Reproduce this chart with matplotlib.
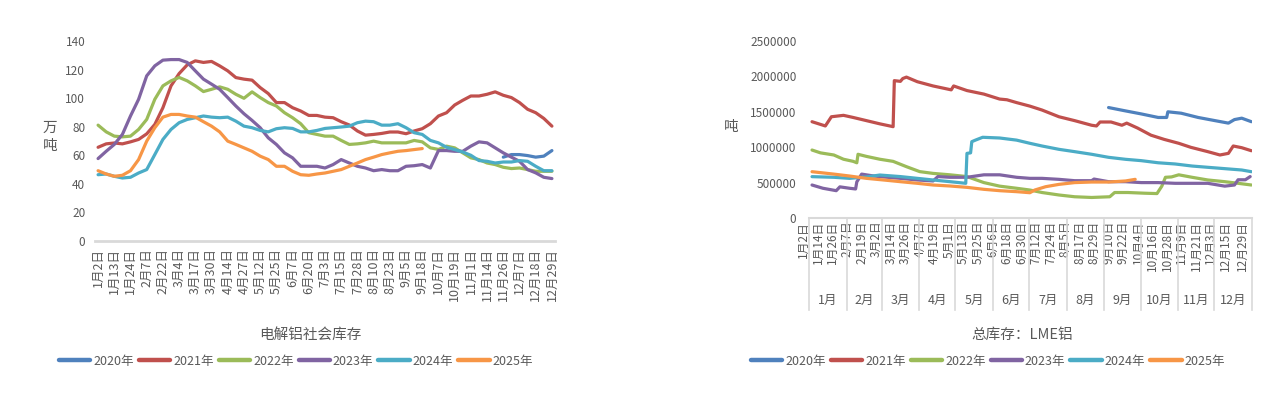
import numpy as np
import matplotlib
matplotlib.use("Agg")
import matplotlib.pyplot as plt
from matplotlib.lines import Line2D
import matplotlib.transforms as mtransforms

plt.rcParams['font.family'] = ['Noto Sans CJK SC', 'DejaVu Sans']

# ---------------- data ----------------
years = ['2020年', '2021年', '2022年', '2023年', '2024年', '2025年']
colors = ['#4F81BD', '#C0504D', '#9BBB59', '#8064A2', '#4BACC6', '#F79646']

# Left chart: 电解铝社会库存 (万吨), sampled every half label step
left_labels = ['1月2日', '1月13日', '1月24日', '2月7日', '2月22日', '3月4日', '3月17日',
               '3月30日', '4月14日', '4月27日', '5月12日', '5月25日', '6月7日', '6月20日',
               '7月3日', '7月15日', '7月28日', '8月10日', '8月23日', '9月5日', '9月18日',
               '10月7日', '10月19日', '11月1日', '11月14日', '11月26日', '12月7日',
               '12月18日', '12月29日']

soc_2020 = [58.7, 60.5, 60.5, 59.8, 58.7, 59.4, 63.3]
soc_2020_start = 25.0
soc_2021 = [65.6, 68.0, 68.6, 68.0, 69.4, 71.1, 75.0, 81.6, 93.3, 108.6, 117.2, 123.3, 126.1,
            125.0, 125.7, 122.6, 119.1, 114.4, 113.3, 112.6, 107.4, 103.2, 96.9, 96.9, 93.3,
            91.0, 87.9, 87.9, 86.7, 86.3, 83.5, 81.2, 77.0, 74.1, 74.6, 75.3, 76.3, 76.3, 75.1,
            77.0, 78.6, 82.1, 87.5, 89.8, 95.2, 98.5, 101.5, 101.5, 102.7, 104.4, 102.0, 100.4,
            96.9, 92.2, 89.8, 85.8, 80.4]
soc_2022 = [81.1, 76.4, 73.4, 72.9, 73.4, 78.1, 85.1, 99.2, 108.6, 112.1, 114.5, 112.1, 108.6,
            104.6, 106.2, 107.9, 106.2, 102.7, 99.9, 104.4, 100.4, 96.9, 94.5, 89.8, 86.3, 82.1,
            75.8, 74.6, 73.4, 73.4, 70.4, 67.6, 68.0, 68.7, 69.9, 68.7, 68.7, 68.7, 68.7, 70.4,
            69.4, 65.2, 64.1, 66.4, 65.2, 61.7, 58.2, 57.0, 54.6, 53.5, 51.6, 50.7, 51.1, 50.0,
            48.8, 48.8, 48.8]
soc_2023 = [57.7, 62.8, 67.6, 74.6, 87.5, 99.2, 115.6, 122.6, 126.6, 127.0, 127.0, 125.0, 119.1,
            113.3, 109.8, 106.2, 100.4, 94.5, 89.1, 84.4, 79.3, 72.2, 67.6, 61.7, 58.2, 52.3,
            52.3, 52.3, 51.1, 53.5, 57.0, 54.6, 52.3, 51.1, 49.2, 50.0, 49.2, 49.2, 52.3, 52.7,
            53.5, 51.1, 63.3, 63.3, 62.8, 62.8, 66.4, 69.4, 68.7, 65.2, 61.7, 58.7, 55.8, 50.0,
            47.7, 44.6, 43.7]
soc_2024 = [46.4, 46.9, 45.3, 44.1, 44.6, 47.6, 50.0, 60.5, 71.1, 78.1, 82.8, 85.1, 86.3, 87.5,
            86.7, 86.3, 86.7, 83.9, 80.4, 79.3, 77.4, 76.4, 78.6, 79.3, 78.8, 76.4, 76.4, 77.4,
            78.8, 79.3, 79.8, 80.4, 82.8, 83.9, 83.5, 81.1, 81.1, 82.1, 79.3, 75.8, 74.6, 70.4,
            68.7, 65.6, 64.0, 62.3, 60.0, 56.3, 55.8, 54.6, 55.3, 55.3, 56.3, 55.8, 52.3, 49.2,
            49.2]
soc_2025 = [49.2, 46.9, 45.3, 46.0, 49.2, 57.0, 69.9, 79.3, 86.7, 88.6, 88.6, 87.5, 86.7, 83.5,
            80.4, 76.4, 69.9, 67.6, 65.2, 62.8, 59.4, 57.0, 52.3, 52.3, 48.8, 46.4, 46.0, 46.9,
            47.6, 48.8, 50.0, 52.3, 54.6, 57.0, 58.7, 60.5, 61.7, 62.8, 63.3, 64.0, 64.7]
left_series = [(soc_2020_start, soc_2020), (0.0, soc_2021), (0.0, soc_2022),
               (0.0, soc_2023), (0.0, soc_2024), (0.0, soc_2025)]
left_step = 0.5  # samples per half label interval

# Right chart: 总库存 LME铝 (吨), day-of-year (leap-year calendar)
right_labels = ['1月2日', '1月14日', '1月26日', '2月7日', '2月19日', '3月2日', '3月14日', '3月26日',
                '4月7日', '4月19日', '5月1日', '5月13日', '5月25日', '6月6日', '6月18日', '6月30日',
                '7月12日', '7月24日', '8月5日', '8月17日', '8月29日', '9月10日', '9月22日',
                '10月4日', '10月16日', '10月28日', '11月9日', '11月21日', '12月3日', '12月15日',
                '12月29日']
month_names = ['1月', '2月', '3月', '4月', '5月', '6月', '7月', '8月', '9月', '10月', '11月', '12月']
month_days = [31, 29, 31, 30, 31, 30, 31, 31, 30, 31, 30, 31]

lme_2020_d = [248, 261, 275, 289, 296, 297, 308, 322, 336, 347, 352, 358, 366]
lme_2020_v = [1560000, 1516000, 1470000, 1420000, 1420000, 1500000, 1480000, 1420000, 1375000,
              1340000, 1390000, 1410000, 1360000]
lme_2021_d = [3, 14, 19, 29, 37, 48, 59, 70, 71, 76, 78, 81, 90, 103, 118, 120, 131, 145, 158,
              164, 172, 183, 193, 207, 220, 234, 238, 241, 250, 259, 263, 272, 283, 294, 306,
              316, 330, 340, 347, 351, 358, 366]
lme_2021_v = [1360000, 1300000, 1430000, 1450000, 1420000, 1375000, 1330000, 1290000, 1940000,
              1930000, 1970000, 1990000, 1925000, 1865000, 1810000, 1865000, 1800000, 1750000,
              1680000, 1670000, 1630000, 1580000, 1525000, 1430000, 1375000, 1310000, 1300000,
              1356000, 1356000, 1310000, 1340000, 1270000, 1170000, 1110000, 1055000, 998000,
              937000, 890000, 913000, 1017000, 993000, 950000]
lme_2022_d = [3, 10, 21, 29, 37, 40, 41, 48, 59, 70, 81, 92, 103, 117, 131, 145, 158, 172, 183,
              193, 207, 220, 234, 249, 253, 264, 278, 288, 292, 295, 300, 306, 317, 330, 344,
              355, 366]
lme_2022_v = [960000, 920000, 890000, 830000, 800000, 780000, 900000, 870000, 830000, 800000,
              725000, 655000, 630000, 610000, 585000, 500000, 450000, 420000, 395000, 360000,
              325000, 300000, 290000, 300000, 360000, 360000, 350000, 345000, 450000, 575000,
              580000, 610000, 575000, 537000, 513000, 490000, 466000]
lme_2023_d = [3, 12, 23, 26, 34, 39, 40, 44, 54, 65, 76, 90, 103, 107, 117, 131, 145, 158, 172,
              183, 193, 207, 220, 234, 236, 248, 262, 275, 289, 303, 317, 330, 344, 352, 355,
              361, 365]
lme_2023_v = [466000, 420000, 386000, 440000, 420000, 410000, 510000, 620000, 593000, 575000,
              560000, 537000, 523000, 585000, 575000, 575000, 610000, 610000, 575000, 560000,
              560000, 546000, 527000, 527000, 550000, 513000, 513000, 500000, 500000, 490000,
              490000, 490000, 450000, 466000, 540000, 540000, 585000]
lme_2024_d = [3, 21, 34, 48, 59, 76, 90, 103, 117, 130, 131, 134, 135, 138, 144, 158, 172, 183,
              193, 207, 220, 234, 248, 262, 275, 289, 303, 317, 330, 344, 358, 366]
lme_2024_v = [584000, 575000, 560000, 580000, 607000, 585000, 560000, 537000, 513000, 490000,
              913000, 920000, 1078000, 1100000, 1140000, 1130000, 1100000, 1055000, 1017000,
              970000, 937000, 900000, 857000, 829000, 810000, 780000, 763000, 734000, 716000,
              697000, 678000, 654000]
lme_2025_d = [3, 21, 34, 48, 62, 76, 90, 103, 117, 131, 145, 158, 172, 183, 187, 196, 207, 220,
              234, 248, 262, 270]
lme_2025_v = [654000, 620000, 593000, 560000, 537000, 513000, 490000, 466000, 452000, 433000,
              405000, 386000, 372000, 357000, 395000, 442000, 475000, 500000, 508000, 508000,
              523000, 546000]
right_series = [(lme_2020_d, lme_2020_v), (lme_2021_d, lme_2021_v), (lme_2022_d, lme_2022_v),
                (lme_2023_d, lme_2023_v), (lme_2024_d, lme_2024_v), (lme_2025_d, lme_2025_v)]

# ---------------- figure ----------------
W, H = 1268, 393
fig = plt.figure(figsize=(W / 100, H / 100), dpi=100)
txt = '#595959'
axis_gray = '#D9D9D9'
lw = 2.3


def fbox(x0, y0, x1, y1):
    return [x0 / W, 1 - y1 / H, (x1 - x0) / W, (y1 - y0) / H]


# ---- left ----
axL = fig.add_axes(fbox(95, 41, 555, 241))
for (start, vals), c in zip(left_series, colors):
    x = start + left_step * np.arange(len(vals))
    axL.plot(x, vals, color=c, lw=lw, solid_joinstyle='round', solid_capstyle='round')
axL.set_xlim(-0.19, len(left_labels) - 1 + 0.19)
axL.set_ylim(0, 140)
axL.set_yticks(np.arange(0, 141, 20))
axL.set_xticks(np.arange(len(left_labels)))
axL.set_xticklabels(left_labels, rotation=90, fontsize=9, color=txt)
axL.tick_params(axis='x', length=0, pad=5)
axL.tick_params(axis='y', length=0, labelsize=8.5, colors=txt, pad=7)
for s in ['top', 'right', 'left']:
    axL.spines[s].set_visible(False)
axL.spines['bottom'].set_color(axis_gray)
axL.spines['bottom'].set_linewidth(2)
fig.text(50 / W, 1 - 137 / H, '万\n吨', ha='center', va='center', fontsize=10.5, color=txt,
         linespacing=1.4)
fig.text(310 / W, 1 - 335 / H, '电解铝社会库存', ha='center', va='center', fontsize=10.5, color=txt)

# ---- right ----
axR = fig.add_axes(fbox(809, 41, 1252, 218))
for (d, v), c in zip(right_series, colors):
    axR.plot(np.array(d) - 0.5, v, color=c, lw=lw, solid_joinstyle='round', solid_capstyle='round')
total_days = sum(month_days)
axR.set_xlim(0, total_days)
axR.set_ylim(0, 2500000)
axR.set_yticks(np.arange(0, 2500001, 500000))
axR.yaxis.set_major_formatter(matplotlib.ticker.FuncFormatter(lambda v, p: f'{int(v)}'))
month_start = np.concatenate([[0], np.cumsum(month_days)])


def doy(label):
    m, dd = label.replace('日', '').split('月')
    return month_start[int(m) - 1] + int(dd)


axR.set_xticks([doy(l) - 0.5 for l in right_labels])
axR.set_xticklabels(right_labels, rotation=90, fontsize=8.5, color=txt, va='top')
axR.tick_params(axis='x', length=0, pad=2)
shift = mtransforms.ScaledTranslation(-7 / 100, 0, fig.dpi_scale_trans)
for lab in axR.get_xticklabels():
    lab.set_transform(lab.get_transform() + shift)
axR.tick_params(axis='y', length=0, labelsize=8.5, colors=txt, pad=9)
for s in ['top', 'right', 'left']:
    axR.spines[s].set_visible(False)
axR.spines['bottom'].set_color(axis_gray)
axR.spines['bottom'].set_linewidth(1.5)
trans = mtransforms.blended_transform_factory(axR.transData, axR.transAxes)
sep_bottom = -(310 - 218) / (218 - 41)
for b in month_start:
    axR.add_line(Line2D([b, b], [0, sep_bottom], transform=trans, color=axis_gray, lw=1.2,
                        clip_on=False))
month_y = -(300 - 218) / (218 - 41)
for i, name in enumerate(month_names):
    axR.text((month_start[i] + month_start[i + 1]) / 2, month_y, name, transform=trans,
             ha='center', va='center', fontsize=9, color=txt)
fig.text(731 / W, 1 - 127 / H, '吨', ha='center', va='center', fontsize=10.5, color=txt)
fig.text(1022 / W, 1 - 335 / H, '总库存：LME铝', ha='center', va='center', fontsize=10.5, color=txt)

# ---- legends ----
handles = [Line2D([], [], color=c, lw=3.2, solid_capstyle='round') for c in colors]
for cx in (296 / W, 988 / W):
    fig.legend(handles, years, loc='center', bbox_to_anchor=(cx, 1 - 361 / H), ncol=6,
               frameon=False, fontsize=9, handlelength=2.5, handletextpad=0.25,
               columnspacing=0.4, labelcolor=txt, borderpad=0)

fig.savefig('out.png', dpi=100, facecolor='white')
